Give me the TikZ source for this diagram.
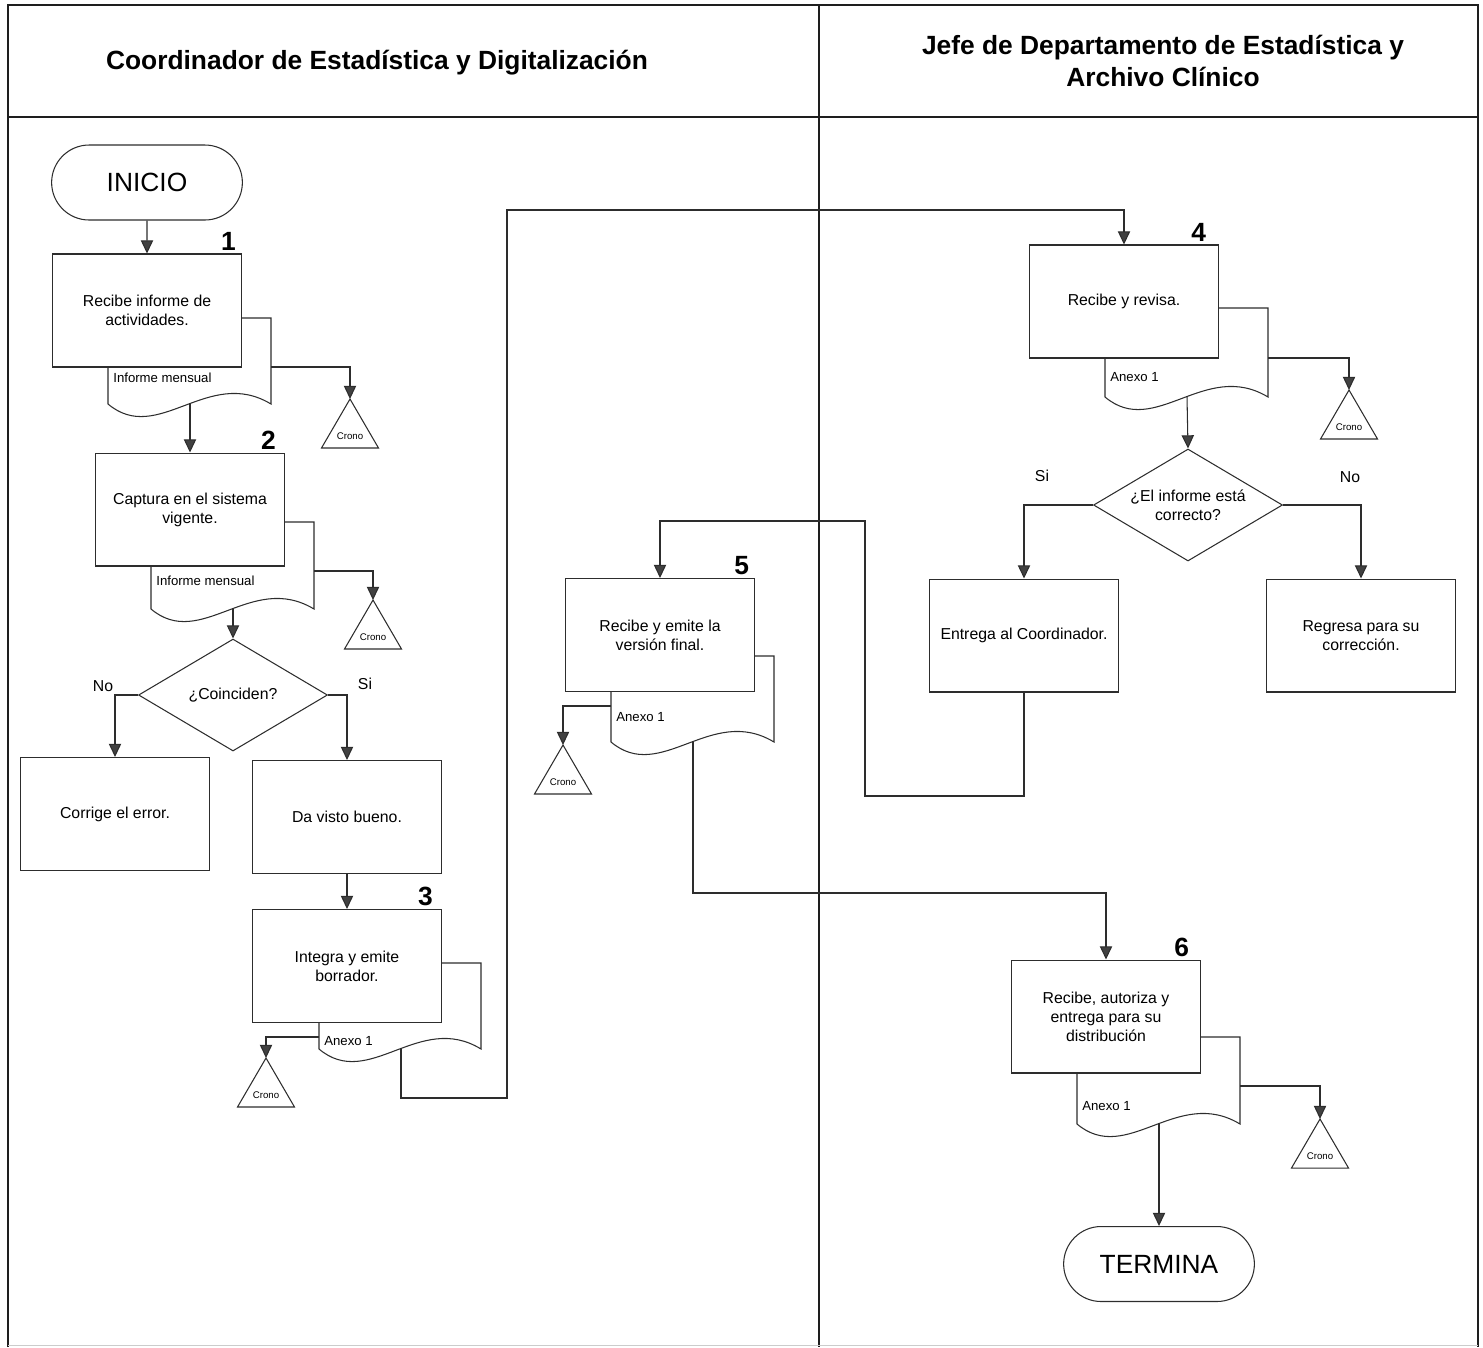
\documentclass[tikz,border=0pt]{standalone}
\usepackage{fontspec}
\setmainfont{Liberation Sans}
\usetikzlibrary{arrows.meta,calc,positioning,shapes.geometric,shapes.misc}
\definecolor{LineGray}{RGB}{45,45,45}
\definecolor{TipGray}{RGB}{65,65,65}
\definecolor{LaneGray}{RGB}{30,30,30}

\tikzset{
  lane/.style={LaneGray,line width=1.5pt},
  proc/.style={draw=LineGray,line width=0.6pt,fill=white,minimum width=3.78cm,minimum height=2.26cm,
    inner sep=0pt,align=center,font=\fontsize{9}{10.8}\selectfont},
  term/.style={draw=LineGray,line width=0.6pt,rounded rectangle,minimum width=4.05cm,minimum height=1.5cm,
    font=\fontsize{15}{18}\selectfont},
  decis/.style={draw=LineGray,line width=0.6pt,diamond,aspect=1.69,minimum width=3.78cm,minimum height=2.24cm,
    inner sep=0pt,align=center,font=\fontsize{9}{10.8}\selectfont},
  docu/.style={LineGray,line width=0.6pt},
  doclab/.style={font=\fontsize{7.5}{9}\selectfont,inner sep=0pt,anchor=west},
  crono/.style={LineGray,line width=0.6pt},
  cronolab/.style={font=\fontsize{5.5}{6}\selectfont,inner sep=0pt},
  arr/.style={LineGray,line width=0.6pt,-{Triangle[width=7pt,length=7.5pt,fill=TipGray]}},
  num/.style={font=\bfseries\fontsize{15}{18}\selectfont,inner sep=1pt,anchor=south east},
  head/.style={font=\bfseries\fontsize{15}{18}\selectfont,align=center},
  resp/.style={font=\fontsize{9}{10.8}\selectfont}
}

\begin{document}
\begin{tikzpicture}[x=0.02cm,y=-0.02cm]
  \useasboundingbox (0,0) rectangle (1483,1347);
  % carriles
  \draw[lane] (8,1347) -- (8,5) -- (1478,5) -- (1478,1347);
  \draw[lane] (8,117) -- (1478,117);
  \draw[lane] (819,5) -- (819,1347);
  \draw[gray!40,line width=0.4pt] (8,1345) -- (1478,1345);
  \node[head] (h1) at (377,63) {Coordinador de Estadística y Digitalización};
  \node[head] (h2) at (1163,61) {Jefe de Departamento de Estadística y\\Archivo Clínico};

  % pasos
  \node[term] (ini) at (147,182.5) {INICIO};
  \node[proc] (b1) at (147,310.5) {Recibe informe de\\actividades.};
  \node[proc] (b2) at (190,509.5) {Captura en el sistema\\vigente.};
  \node[decis] (d1) at (233,695) {¿Coinciden?};
  \node[proc] (bno) at (115,814) {Corrige el error.};
  \node[proc] (bsi) at (347,817) {Da visto bueno.};
  \node[proc] (b3) at (347,966) {Integra y emite\\borrador.};
  \node[proc] (b4) at (1124,301.5) {Recibe y revisa.};
  \node[decis] (d2) at (1188,505) {¿El informe está\\correcto?};
  \node[proc] (bent) at (1024,635.5) {Entrega al Coordinador.};
  \node[proc] (breg) at (1361,635.5) {Regresa para su\\corrección.};
  \node[proc] (b5) at (660,635) {Recibe y emite la\\versión final.};
  \node[proc] (b6) at (1106,1016.5) {Recibe, autoriza y\\entrega para su\\distribución};
  \node[term] (fin) at (1159,1264) {TERMINA};

  % numeros
  \node[num] (n1) at ($(b1.north east)+(-4,-1)$) {1};
  \node[num] (n2) at ($(b2.north east)+(-7,-1)$) {2};
  \node[num] (n3) at ($(b3.north east)+(-7,-1)$) {3};
  \node[num] (n4) at ($(b4.north east)+(-11,-1)$) {4};
  \node[num] (n5) at ($(b5.north east)+(-4,-1)$) {5};
  \node[num] (n6) at ($(b6.north east)+(-10,-1)$) {6};

  % documentos
  \foreach \i/\l/\r/\t/\w/\bb/\br/\ly/\lab in {
      1/108/271/318/404/367/241.5/378/Informe mensual,
      2/151/314/522/609/566/284.5/581/Informe mensual,
      3/319/481/963/1049/1022.5/441.5/1041/Anexo 1,
      4/1105/1268/308/397/358/1218.5/377/Anexo 1,
      5/611/774/656/742/691.5/754.5/717/Anexo 1,
      6/1077/1240/1037/1124/1073/1200.5/1106/Anexo 1} {
    \draw[docu] (\l,\bb) -- (\l,\w) .. controls (\l+50,\w+42) and (\l+100,\w-38) .. (\r,\w) -- (\r,\t) -- (\br,\t);
    \node[doclab] (lab\i) at (\l+5,\ly) {\lab};
    \coordinate (o\i) at (\l+82,\w);
  }

  % cronos
  \foreach \i/\x/\y/\sx/\sy in {1/350/399/271/367, 2/373/600/314/571, 3/266/1058/319/1037,
      4/1349/390/1268/358, 5/563/745/611/706, 6/1320/1119/1240/1086} {
    \coordinate (c\i) at (\x,\y);
    \coordinate (s\i) at (\sx,\sy);
    \draw[crono] (c\i) -- ++(28.5,49) -- ++(-57,0) -- cycle;
    \node[cronolab] (ct\i) at (\x,\y+37) {Crono};
    \draw[arr] (s\i) -| (c\i);
  }

  % flujo
  \draw[arr] (ini) -- (b1);
  \draw[arr] (o1) -- (o1 |- b2.north);
  \draw[arr] (o2) -- (d1.north);
  \draw[arr] (d1.west) -| (bno.north);
  \draw[arr] (d1.east) -| (bsi.north);
  \draw[arr] (bsi) -- (b3);
  \draw[arr] (o3) |- (507,1098) |- (1124,210) -- (b4.north);
  \draw[arr] (o4) -- (d2.north);
  \draw[arr] (d2.west) -| (bent.north);
  \draw[arr] (d2.east) -| (breg.north);
  \draw[arr] (bent.south) |- (865,796) |- (660,521) -- (b5.north);
  \draw[arr] (o5) |- (1106,893) -- (b6.north);
  \draw[arr] (o6) -- (fin.north);

  % respuestas
  \node[resp] (r1) at (103,686) {No};
  \node[resp] (r2) at (365,684) {Si};
  \node[resp] (r3) at (1042,476) {Si};
  \node[resp] (r4) at (1350,477) {No};
\end{tikzpicture}
\end{document}
